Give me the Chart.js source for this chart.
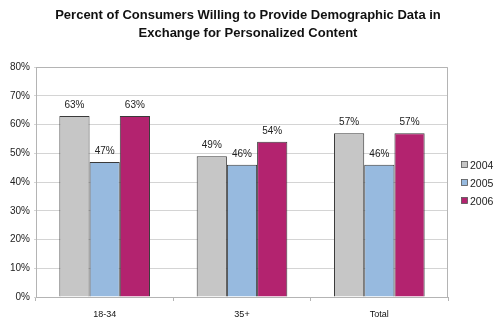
<!DOCTYPE html>
<html>
<head>
<meta charset="utf-8">
<script src="https://cdn.jsdelivr.net/npm/chart.js@4/dist/chart.umd.min.js"></script>
<style>
  html, body { margin: 0; padding: 0; background: #ffffff; }
  #wrap { width: 500px; height: 324px; position: relative; }
</style>
</head>
<body>
<div id="wrap"><canvas id="c" width="500" height="324"></canvas></div>
<script>
// Survey results: share of consumers willing to trade demographic data for personalized content
const categories = ['18-34', '35+', 'Total'];
const seriesNames = ['2004', '2005', '2006'];
const values2004 = [63, 49, 57];
const values2005 = [47, 46, 46];
const values2006 = [63, 54, 57];
const yTicks = [0, 10, 20, 30, 40, 50, 60, 70, 80];
const titleLines = ['Percent of Consumers Willing to Provide Demographic Data in', 'Exchange for Personalized Content'];

const colors = ['#c6c6c6', '#97badf', '#b3236f'];
const FONT = '"Liberation Sans", Arial, sans-serif';

// Title, plot frame, value labels and legend
const decorations = {
  id: 'decorations',
  afterDatasetsDraw(chart) {
    const ctx = chart.ctx;
    const area = chart.chartArea;
    ctx.save();
    // frame around plot area (top and right edges)
    ctx.strokeStyle = '#b4b4b4';
    ctx.lineWidth = 1;
    ctx.beginPath();
    ctx.moveTo(area.left, area.top + 0.5);
    ctx.lineTo(area.right - 0.5, area.top + 0.5);
    ctx.lineTo(area.right - 0.5, area.bottom);
    ctx.stroke();

    // value labels above bars
    ctx.fillStyle = '#222';
    ctx.font = '10px ' + FONT;
    ctx.textAlign = 'center';
    ctx.textBaseline = 'bottom';
    chart.data.datasets.forEach((ds, di) => {
      const meta = chart.getDatasetMeta(di);
      meta.data.forEach((bar, i) => {
        ctx.fillText(ds.data[i] + '%', bar.x, bar.y - 6);
      });
    });

    // title
    ctx.fillStyle = '#111';
    ctx.font = 'bold 13px ' + FONT;
    ctx.textBaseline = 'middle';
    ctx.fillText(titleLines[0], 248, 15);
    ctx.fillText(titleLines[1], 248, 33);

    // legend
    ctx.font = '10.5px ' + FONT;
    ctx.textAlign = 'left';
    const ys = [165, 183, 201];
    chart.data.datasets.forEach((ds, di) => {
      const y = ys[di];
      ctx.fillStyle = ds.backgroundColor;
      ctx.fillRect(461.5, y - 3.5, 6, 6);
      ctx.strokeStyle = '#555';
      ctx.lineWidth = 0.8;
      ctx.strokeRect(461.5, y - 3.5, 6, 6);
      ctx.fillStyle = '#222';
      ctx.fillText(ds.label, 470, y + 1);
    });
    ctx.restore();
  }
};

new Chart(document.getElementById('c'), {
  type: 'bar',
  data: {
    labels: categories,
    datasets: [
      { label: seriesNames[0], data: values2004, backgroundColor: colors[0] },
      { label: seriesNames[1], data: values2005, backgroundColor: colors[1] },
      { label: seriesNames[2], data: values2006, backgroundColor: colors[2] }
    ].map(d => Object.assign(d, {
      borderColor: '#3a3a3a',
      borderWidth: 1,
      categoryPercentage: 0.66,
      barPercentage: 1.0
    }))
  },
  options: {
    responsive: false,
    animation: false,
    devicePixelRatio: 1,
    layout: { padding: { top: 67, right: 52, bottom: 0, left: 0 } },
    plugins: {
      legend: { display: false },
      title: { display: false },
      tooltip: { enabled: false }
    },
    scales: {
      x: {
        afterFit(scale) { scale.height = 27; },
        grid: {
          offset: true,
          drawOnChartArea: false,
          drawTicks: true,
          tickLength: 4,
          color: '#b4b4b4'
        },
        border: { color: '#b4b4b4' },
        ticks: {
          color: '#111',
          font: { family: FONT, size: 9 },
          padding: 8
        }
      },
      y: {
        min: 0,
        max: 80,
        afterFit(scale) { scale.width = 36; },
        afterBuildTicks(scale) { scale.ticks = yTicks.map(v => ({ value: v })); },
        grid: {
          color: '#d4d4d4',
          drawTicks: true,
          tickLength: 2
        },
        border: { color: '#b4b4b4' },
        ticks: {
          color: '#222',
          font: { family: FONT, size: 10 },
          padding: 4,
          callback: v => v + '%'
        }
      }
    }
  },
  plugins: [decorations]
});
</script>
</body>
</html>
